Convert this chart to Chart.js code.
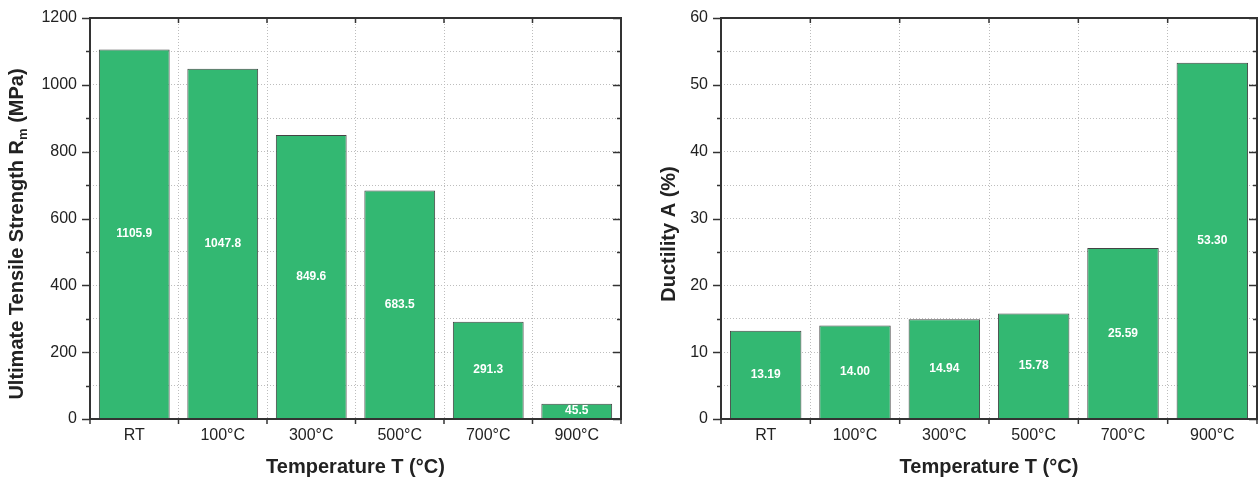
<!DOCTYPE html>
<html>
<head>
<meta charset="utf-8">
<script src="https://cdn.jsdelivr.net/npm/chart.js@4.4.1/dist/chart.umd.min.js"></script>
<style>
  body { margin: 0; background: #fff; }
  canvas { position: absolute; top: 0; }
  #chLeft { left: 0; }
  #chRight { left: 640px; }
</style>
</head>
<body>
<canvas id="chLeft" width="640" height="477"></canvas>
<canvas id="chRight" width="619" height="477"></canvas>
<script>
// data
var temps = ["RT", "100°C", "300°C", "500°C", "700°C", "900°C"];
var strength = [1105.9, 1047.8, 849.6, 683.5, 291.3, 45.5];
var ductility = [13.19, 14.0, 14.94, 15.78, 25.59, 53.3];

var barColor = "#33b872";
var font = "'Liberation Sans', Arial, sans-serif";

// frame + inward/outward tick marks
var framePlugin = {
  id: "frame",
  afterDraw: (chart, args, opts) => {
    var ctx = chart.ctx, a = chart.chartArea, y = chart.scales.y;
    var line = (x1, y1, x2, y2) => {
      ctx.beginPath(); ctx.moveTo(x1, y1); ctx.lineTo(x2, y2); ctx.stroke();
    };
    ctx.save();
    ctx.strokeStyle = "#333";
    ctx.lineWidth = 1.5;
    y.ticks.forEach((t) => {
      var py = Math.round(y.getPixelForValue(t.value)) + 0.5;
      var len = t.value % opts.major === 0 ? 8 : 4;
      line(a.left - len, py, a.left, py);
      line(a.right - len, py, a.right, py);
    });
    var n = chart.data.labels.length;
    for (var i = 0; i <= n; i++) {
      var px = a.left + (i * (a.right - a.left)) / n;
      line(px, a.bottom, px, a.bottom + 5);
      line(px, a.top, px, a.top + 5);
    }
    ctx.lineWidth = 2;
    ctx.strokeRect(a.left, a.top, a.right - a.left, a.bottom - a.top);
    ctx.restore();
  },
};

// value labels in the middle of each bar
var valuePlugin = {
  id: "values",
  afterDatasetsDraw: (chart, args, opts) => {
    var ctx = chart.ctx;
    var meta = chart.getDatasetMeta(0);
    ctx.save();
    ctx.fillStyle = "#fff";
    ctx.font = "bold 12px " + font;
    ctx.textAlign = "center";
    ctx.textBaseline = "middle";
    meta.data.forEach((bar, i) => {
      var v = chart.data.datasets[0].data[i];
      ctx.fillText(v.toFixed(opts.digits), bar.x, (bar.y + bar.base) / 2);
    });
    ctx.restore();
  },
};

// axis titles (y title may carry a subscript)
var titlePlugin = {
  id: "titles",
  afterDraw: (chart, args, opts) => {
    var ctx = chart.ctx, a = chart.chartArea;
    ctx.save();
    ctx.fillStyle = "#222";
    ctx.textBaseline = "alphabetic";
    ctx.textAlign = "center";
    ctx.font = "bold 20px " + font;
    ctx.fillText("Temperature T (°C)", (a.left + a.right) / 2, 473);

    var big = "bold 20px " + font, small = "bold 13px " + font;
    var total = 0;
    opts.yParts.forEach((p) => {
      ctx.font = p.sub ? small : big;
      p.w = ctx.measureText(p.t).width;
      total += p.w;
    });
    ctx.translate(opts.yX, 234);
    ctx.rotate(-Math.PI / 2);
    ctx.textAlign = "left";
    var pos = -total / 2;
    opts.yParts.forEach((p) => {
      ctx.font = p.sub ? small : big;
      ctx.fillText(p.t, pos, p.sub ? 11 : 7);
      pos += p.w;
    });
    ctx.restore();
  },
};

function makeOptions(yMax, step, major, axisWidth, padRight, digits, yX, yParts) {
  return {
    responsive: false,
    animation: false,
    layout: { padding: { top: 18, right: padRight, left: 0, bottom: 0 } },
    plugins: {
      legend: { display: false },
      tooltip: { enabled: false },
      frame: { major: major },
      values: { digits: digits },
      titles: { yX: yX, yParts: yParts },
    },
    scales: {
      x: {
        grid: { color: "#bdbdbd", lineWidth: 1, drawTicks: false, offset: true },
        border: { display: false, dash: [1, 2] },
        ticks: { color: "#222", font: { family: font, size: 16 }, padding: 7, maxRotation: 0 },
        afterFit: (s) => { s.height = 58; s.paddingLeft = 0; s.paddingRight = 0; },
      },
      y: {
        min: 0,
        max: yMax,
        grid: { color: "#bdbdbd", lineWidth: 1, drawTicks: false },
        border: { display: false, dash: [1, 2] },
        ticks: {
          stepSize: step,
          color: "#222",
          font: { family: font, size: 16 },
          padding: 13,
          callback: (v) => (v % major === 0 ? v : ""),
        },
        afterFit: (s) => { s.width = axisWidth; s.paddingTop = 0; s.paddingBottom = 0; },
      },
    },
  };
}

var plugins = [framePlugin, valuePlugin, titlePlugin];

var chLeft = document.getElementById("chLeft");
if (chLeft) {
  this.c1 = new Chart(chLeft, {
    type: "bar",
    data: {
      labels: temps,
      datasets: [{
        data: strength,
        backgroundColor: barColor,
        borderColor: "#444",
        borderWidth: 1,
        barPercentage: 0.8,
        categoryPercentage: 1,
      }],
    },
    options: makeOptions(1200, 100, 200, 90, 19, 1, 16, [
      { t: "Ultimate Tensile Strength R" },
      { t: "m", sub: true },
      { t: " (MPa)" },
    ]),
    plugins: plugins,
  });
}

var chRight = document.getElementById("chRight");
if (chRight) {
  this.c2 = new Chart(chRight, {
    type: "bar",
    data: {
      labels: temps,
      datasets: [{
        data: ductility,
        backgroundColor: barColor,
        borderColor: "#444",
        borderWidth: 1,
        barPercentage: 0.8,
        categoryPercentage: 1,
      }],
    },
    options: makeOptions(60, 5, 10, 81, 2, 2, 28, [{ t: "Ductility A (%)" }]),
    plugins: plugins,
  });
}
</script>
</body>
</html>
